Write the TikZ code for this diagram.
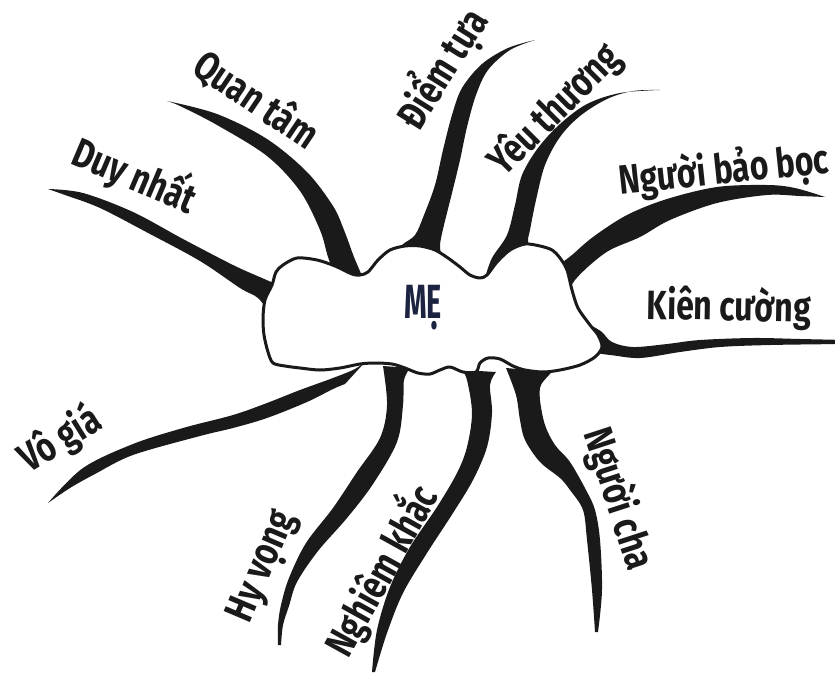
\documentclass[tikz,border=0pt]{standalone}
\usepackage{fontspec}
\newfontfamily\labfont[FakeStretch=0.78]{Fira Sans}
\newfontfamily\mefont[FakeStretch=0.6]{Fira Sans}
\definecolor{ink}{HTML}{1A1A1A}
\definecolor{mecol}{HTML}{1C2340}
\begin{document}
\begin{tikzpicture}[x=1pt,y=-1pt,
  brush/.style={fill=ink},
  lbl/.style={font={\labfont\bfseries\fontsize{41}{42}\selectfont}, text=ink, inner sep=0pt},
  cloud/.style={draw=ink, line width=3pt, fill=white, line join=round}]
\useasboundingbox (0,0) rectangle (835,675);

% ---- branches ----
% Duy nhat
\fill[brush] plot[smooth, tension=0.55] coordinates {(48,189) (83,193) (133,212) (183,239) (233,265) (262,278) (276,284)}
  -- plot[smooth, tension=0.55] coordinates {(270,314) (258,298) (240,288) (200,261) (150,234) (100,208) (65,195) (48,189)} -- cycle;
% Quan tam
\fill[brush] plot[smooth, tension=0.55] coordinates {(167,101) (217,114) (267,139) (307,172) (333,206) (344,230) (354,257) (363,278)}
  -- plot[smooth, tension=0.55] coordinates {(336,278) (328,257) (320,230) (300,191) (267,156) (217,125) (180,106) (167,101)} -- cycle;
% Diem tua
\fill[brush] plot[smooth, tension=0.55] coordinates {(535,40) (510,50) (488,70) (476,95) (467,127) (460,160) (452,193) (444,225) (440,245) (442,258)}
  -- plot[smooth, tension=0.55] coordinates {(392,258) (402,245) (415,235) (424,215) (435,185) (443,150) (452,115) (462,88) (482,64) (508,48) (535,40)} -- cycle;
% Yeu thuong
\fill[brush] plot[smooth, tension=0.55] coordinates {(660,90) (633,91) (607,99) (580,116) (560,137) (545,165) (536,200) (530,230) (528,243) (535,258)}
  -- plot[smooth, tension=0.55] coordinates {(485,278) (492,258) (507,235) (515,205) (522,175) (538,148) (560,124) (587,104) (620,93) (660,90)} -- cycle;
% Nguoi bao boc
\fill[brush] plot[smooth, tension=0.55] coordinates {(825,197) (795,188) (767,185) (717,187) (667,199) (627,215) (593,237) (572,255) (560,264)}
  -- plot[smooth, tension=0.55] coordinates {(568,292) (575,280) (590,265) (610,250) (640,237) (670,220) (717,203) (767,195) (800,196) (825,197)} -- cycle;
% Kien cuong
\fill[brush] plot[smooth, tension=0.55] coordinates {(845,340) (800,339) (753,338) (700,340) (667,344) (633,347) (612,342) (602,332) (592,326)}
  -- plot[smooth, tension=0.55] coordinates {(538,380) (560,364) (585,353) (610,355) (640,358) (680,352) (720,347) (770,345) (835,344) (845,343)} -- cycle;
% Nguoi cha
\fill[brush] plot[smooth, tension=0.55] coordinates {(506,368) (516,395) (520,420) (525,440) (540,462) (560,478) (570,490) (583,510) (587,540) (592,590) (595,632)}
  -- plot[smooth, tension=0.55] coordinates {(598,632) (602,590) (600,540) (595,510) (586,490) (570,462) (555,445) (545,425) (540,400) (541,385) (552,372)} -- cycle;
% Nghiem khac
\fill[brush] plot[smooth, tension=0.55] coordinates {(462,370) (467,380) (472,413) (467,447) (457,473) (437,507) (410,547) (390,587) (377,630) (372,672)}
  -- plot[smooth, tension=0.55] coordinates {(375,672) (387,633) (403,593) (427,553) (453,513) (473,480) (487,447) (492,413) (490,385) (496,372)} -- cycle;
% Hy vong
\fill[brush] plot[smooth, tension=0.55] coordinates {(383,366) (387,405) (380,438) (357,472) (333,508) (306,543) (289,578) (281,605) (278,625) (278,645)}
  -- plot[smooth, tension=0.55] coordinates {(281,645) (283,625) (289,606) (297,582) (318,551) (347,518) (373,484) (397,442) (403,405) (404,380) (410,368)} -- cycle;
% Vo gia
\fill[brush] plot[smooth, tension=0.55] coordinates {(48,503) (83,468) (133,444) (183,428) (233,415) (267,403) (300,390) (333,378) (355,369) (366,361)}
  -- plot[smooth, tension=0.55] coordinates {(345,384) (333,389) (307,402) (267,418) (233,428) (200,436) (133,455) (95,474) (70,488) (48,503)} -- cycle;

% ---- central cloud ----
\draw[cloud] plot[smooth cycle, tension=0.5] coordinates {
 (272,285) (276,272) (283,265) (297,258) (317,260) (335,266) (352,274) (360,275) (368,272)
 (378,260) (390,250) (405,246) (420,246) (435,250) (448,258) (460,267) (470,275) (480,278)
 (487,275) (497,262) (510,250) (525,244) (540,246) (552,250) (560,258) (567,270) (572,290)
 (578,308) (590,325) (598,335) (602,347) (595,357) (580,365) (560,370) (543,372) (525,370)
 (513,366) (500,359) (488,358) (480,363) (476,372) (463,372) (450,367) (440,370) (430,374)
 (418,373) (405,368) (392,364) (375,363) (360,364) (340,368) (320,370) (300,368) (285,366)
 (273,363) (268,352) (264,335) (263,318) (265,300)};
\node[font={\mefont\bfseries\fontsize{48}{48}\selectfont}, text=mecol, inner sep=0pt] (me) at (423,308) {MẸ};

% ---- labels ----
\node[lbl, rotate=-23] (l1) at (135,175) {Duy nhất};
\node[lbl, rotate=-34] (l2) at (256,100) {Quan tâm};
\node[lbl, rotate=58] (l3) at (441,68) {Điểm tựa};
\node[lbl, rotate=45] (l4) at (555,110) {Yêu thương};
\node[lbl, rotate=6] (l5) at (724,171) {Người bảo bọc};
\node[lbl, rotate=-1] (l6) at (729,308) {Kiên cường};
\node[lbl, rotate=-72] (l7) at (618,499) {Người cha};
\node[lbl, rotate=61] (l8) at (380,570) {Nghiêm khắc};
\node[lbl, rotate=67] (l9) at (264,567) {Hy vọng};
\node[lbl, rotate=32] (l10) at (60,440) {Vô giá};
\end{tikzpicture}
\end{document}
